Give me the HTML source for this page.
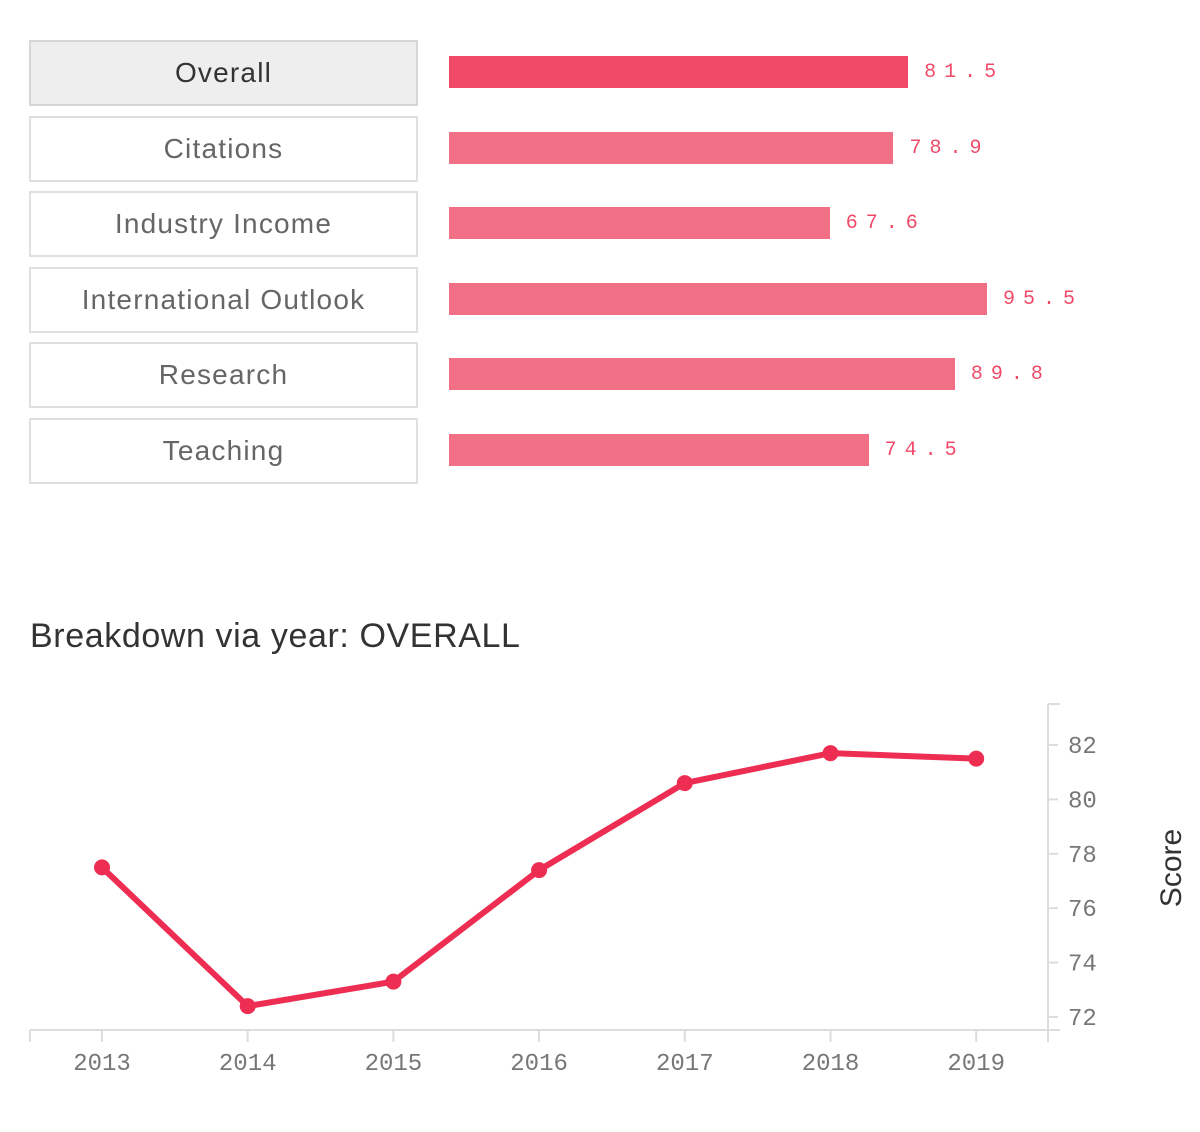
<!DOCTYPE html>
<html><head><meta charset="utf-8"><style>
body{margin:0;width:1200px;height:1132px;background:#fff;font-family:"Liberation Sans",sans-serif;position:relative;overflow:hidden}
.btn{position:absolute;left:29px;width:385px;height:62px;border:2px solid #e0e0e0;background:#fff;color:#666;font-size:28px;letter-spacing:1.2px;line-height:62px;text-align:center;box-sizing:content-box;white-space:nowrap}
.btn.active{background:#eee;color:#333;border-color:#d6d6d6}
.bar{position:absolute;left:449px;height:32px;background:#f27086}
.bar.active{background:#f04a68}
.val{position:absolute;font-family:"Liberation Mono",monospace;font-size:20px;letter-spacing:8px;color:#f04a68;line-height:32px}
#title{position:absolute;left:30px;top:617px;font-size:34px;letter-spacing:0.6px;color:#333}
</style></head><body>
<div id="bars"></div>
<div id="title">Breakdown via year: OVERALL</div>
<svg id="chart" width="1200" height="1132" style="position:absolute;left:0;top:0"></svg>
<script>
const catNames=["Overall","Citations","Industry Income","International Outlook","Research","Teaching"];
const catValues=[81.5,78.9,67.6,95.5,89.8,74.5];
const years=["2013","2014","2015","2016","2017","2018","2019"];
const scores=[77.5,72.4,73.3,77.4,80.6,81.7,81.5];
const yTicks=[72,74,76,78,80,82];

const bars=document.getElementById('bars');
const barX=(v)=>v*5.633;
catNames.forEach((n,i)=>{
  const top=40+i*75.5;
  const b=document.createElement('div');
  b.className='btn'+(i===0?' active':'');
  b.style.top=top+'px';
  b.textContent=n;
  
  
  bars.appendChild(b);
  const r=document.createElement('div');
  r.className='bar'+(i===0?' active':'');
  r.style.top=(top+16)+'px';
  r.style.width=barX(catValues[i])+'px';
  
  
  bars.appendChild(r);
  const t=document.createElement('div');
  t.className='val';
  t.style.top=(top+17)+'px';
  t.style.left=(449+barX(catValues[i])+16)+'px';
  t.textContent=catValues[i].toFixed(1);
  
  
  bars.appendChild(t);
});

const svg=document.getElementById('chart');
const NS='http://www.w3.org/2000/svg';
function el(tag,attrs,parent){const e=document.createElementNS(NS,tag);for(const k in attrs)e.setAttribute(k,attrs[k]);(parent||svg).appendChild(e);return e;}
const xS=(i)=>102+i*145.7;
const yS=(v)=>1017-(v-72)*27.2;
const xa=el('line',{x1:30,y1:1030,x2:1048,y2:1030,stroke:'#ddd','stroke-width':2});


el('line',{x1:30,y1:1030,x2:30,y2:1042,stroke:'#ddd','stroke-width':2});
const ya=el('line',{x1:1048,y1:704,x2:1048,y2:1042,stroke:'#ddd','stroke-width':2});


el('line',{x1:1048,y1:704,x2:1060,y2:704,stroke:'#ddd','stroke-width':2});
el('line',{x1:1048,y1:1030,x2:1060,y2:1030,stroke:'#ddd','stroke-width':2});
years.forEach((y,i)=>{
  el('line',{x1:xS(i),y1:1030,x2:xS(i),y2:1042,stroke:'#ddd','stroke-width':2});
  const t=el('text',{x:xS(i),y:1070,'text-anchor':'middle','font-family':'Liberation Mono, monospace','font-size':24,fill:'#777'});
  t.textContent=y;
  
  
});
yTicks.forEach(v=>{
  el('line',{x1:1048,y1:yS(v),x2:1058,y2:yS(v),stroke:'#ddd','stroke-width':2});
  const t=el('text',{x:1068,y:yS(v)+8,'font-family':'Liberation Mono, monospace','font-size':24,fill:'#777'});
  t.textContent=v;
  
  
});
const yt=el('text',{x:1181,y:868,'text-anchor':'middle','font-size':30,fill:'#333',transform:'rotate(-90 1181 868)'});
yt.textContent='Score';


const pts=scores.map((v,i)=>xS(i)+','+yS(v)).join(' ');
const line=el('polyline',{points:pts,fill:'none',stroke:'#ee2d52','stroke-width':6,'stroke-linejoin':'round'});


scores.forEach((v,i)=>{
  const c=el('circle',{cx:xS(i),cy:yS(v),r:8,fill:'#ee2d52'});
  
  
});
</script>
</body></html>
